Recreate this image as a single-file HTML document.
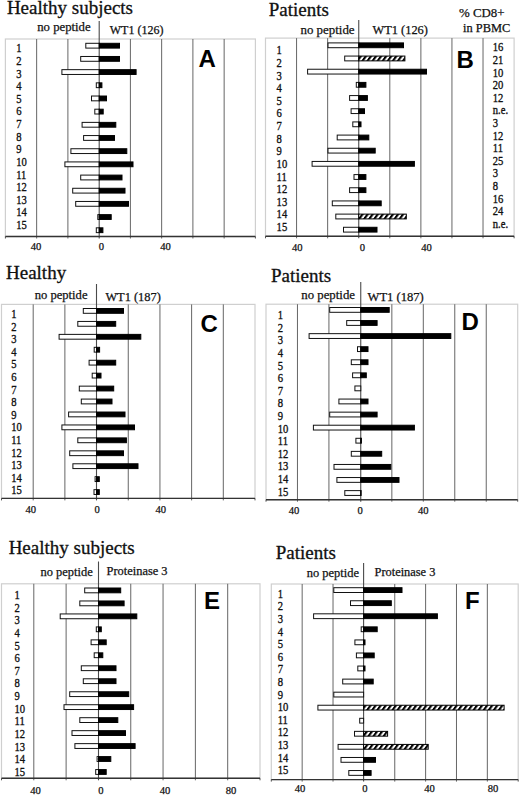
<!DOCTYPE html>
<html><head><meta charset="utf-8"><style>
html,body{margin:0;padding:0;background:#fff;}
body{width:520px;height:795px;overflow:hidden;}
svg{display:block;}
text{font-family:'Liberation Serif', serif;fill:#111;stroke:#111;stroke-width:0.25px;}
.r{stroke-width:0.3px;}
.t{font-size:19.0px;stroke-width:0.3px;}
.h{font-size:12.4px;}
.r{font-size:10.6px;}
.a{font-size:10.6px;text-anchor:middle;}
.L{font-family:'Liberation Sans', sans-serif;font-weight:bold;font-size:24px;fill:#000;stroke:none;}
</style></head><body>
<svg width="520" height="795" viewBox="0 0 520 795">
<defs>
<pattern id="hatch" patternUnits="userSpaceOnUse" width="4.1" height="10" patternTransform="rotate(36)">
<rect width="4.1" height="10" fill="#fff"/><rect width="2.1" height="10" fill="#000"/>
</pattern>

</defs>
<rect width="520" height="795" fill="#fff"/>
<g>
<rect x="5.4" y="39" width="250" height="197.5" fill="none" stroke="#cfcfcf" stroke-width="1.2"/>
<line x1="36.65" y1="39" x2="36.65" y2="238.5" stroke="#666" stroke-width="1"/>
<line x1="67.9" y1="39" x2="67.9" y2="238.5" stroke="#666" stroke-width="1"/>
<line x1="130.4" y1="39" x2="130.4" y2="238.5" stroke="#666" stroke-width="1"/>
<line x1="161.65" y1="39" x2="161.65" y2="238.5" stroke="#666" stroke-width="1"/>
<line x1="192.9" y1="39" x2="192.9" y2="238.5" stroke="#666" stroke-width="1"/>
<line x1="224.15" y1="39" x2="224.15" y2="238.5" stroke="#666" stroke-width="1"/>
<line x1="5.4" y1="236.5" x2="5.4" y2="238.5" stroke="#555" stroke-width="1"/>
<line x1="255.4" y1="236.5" x2="255.4" y2="238.5" stroke="#555" stroke-width="1"/>
<line x1="99.2" y1="21" x2="99.2" y2="238.5" stroke="#4a4a4a" stroke-width="1.1"/>
<rect x="85.8" y="43.3" width="13.4" height="4.8" fill="#fff" stroke="#111" stroke-width="1"/>
<rect x="99.2" y="43.3" width="20.3" height="4.8" fill="#000" stroke="#000" stroke-width="1"/>
<rect x="80.7" y="56.48" width="18.5" height="4.8" fill="#fff" stroke="#111" stroke-width="1"/>
<rect x="99.2" y="56.48" width="20.3" height="4.8" fill="#000" stroke="#000" stroke-width="1"/>
<rect x="61.9" y="69.66" width="37.3" height="4.8" fill="#fff" stroke="#111" stroke-width="1"/>
<rect x="99.2" y="69.66" width="36.9" height="4.8" fill="#000" stroke="#000" stroke-width="1"/>
<rect x="96.3" y="82.84" width="2.9" height="4.8" fill="#fff" stroke="#111" stroke-width="1"/>
<rect x="99.2" y="82.84" width="2.7" height="4.8" fill="#000" stroke="#000" stroke-width="1"/>
<rect x="91.5" y="96.02" width="7.7" height="4.8" fill="#fff" stroke="#111" stroke-width="1"/>
<rect x="99.2" y="96.02" width="7.3" height="4.8" fill="#000" stroke="#000" stroke-width="1"/>
<rect x="94.8" y="109.2" width="4.4" height="4.8" fill="#fff" stroke="#111" stroke-width="1"/>
<rect x="99.2" y="109.2" width="4" height="4.8" fill="#000" stroke="#000" stroke-width="1"/>
<rect x="82.1" y="122.38" width="17.1" height="4.8" fill="#fff" stroke="#111" stroke-width="1"/>
<rect x="99.2" y="122.38" width="16.6" height="4.8" fill="#000" stroke="#000" stroke-width="1"/>
<rect x="83.6" y="135.56" width="15.6" height="4.8" fill="#fff" stroke="#111" stroke-width="1"/>
<rect x="99.2" y="135.56" width="15.3" height="4.8" fill="#000" stroke="#000" stroke-width="1"/>
<rect x="70.9" y="148.74" width="28.3" height="4.8" fill="#fff" stroke="#111" stroke-width="1"/>
<rect x="99.2" y="148.74" width="27.6" height="4.8" fill="#000" stroke="#000" stroke-width="1"/>
<rect x="64.9" y="161.92" width="34.3" height="4.8" fill="#fff" stroke="#111" stroke-width="1"/>
<rect x="99.2" y="161.92" width="33.8" height="4.8" fill="#000" stroke="#000" stroke-width="1"/>
<rect x="80.7" y="175.1" width="18.5" height="4.8" fill="#fff" stroke="#111" stroke-width="1"/>
<rect x="99.2" y="175.1" width="22.8" height="4.8" fill="#000" stroke="#000" stroke-width="1"/>
<rect x="72.7" y="188.28" width="26.5" height="4.8" fill="#fff" stroke="#111" stroke-width="1"/>
<rect x="99.2" y="188.28" width="25.8" height="4.8" fill="#000" stroke="#000" stroke-width="1"/>
<rect x="75.7" y="201.46" width="23.5" height="4.8" fill="#fff" stroke="#111" stroke-width="1"/>
<rect x="99.2" y="201.46" width="29.3" height="4.8" fill="#000" stroke="#000" stroke-width="1"/>
<rect x="97.8" y="214.64" width="1.4" height="4.8" fill="#fff" stroke="#111" stroke-width="1"/>
<rect x="99.2" y="214.64" width="12" height="4.8" fill="#000" stroke="#000" stroke-width="1"/>
<rect x="96.3" y="227.82" width="2.9" height="4.8" fill="#fff" stroke="#111" stroke-width="1"/>
<rect x="99.2" y="227.82" width="3.7" height="4.8" fill="#000" stroke="#000" stroke-width="1"/>
<line x1="5.4" y1="236.5" x2="255.4" y2="236.5" stroke="#333" stroke-width="1.4"/>
<text transform="translate(16.2,52.3) scale(1,1.12)" class="r">1</text>
<text transform="translate(16.2,64.92) scale(1,1.12)" class="r">2</text>
<text transform="translate(16.2,77.54) scale(1,1.12)" class="r">3</text>
<text transform="translate(16.2,90.16) scale(1,1.12)" class="r">4</text>
<text transform="translate(16.2,102.78) scale(1,1.12)" class="r">5</text>
<text transform="translate(16.2,115.4) scale(1,1.12)" class="r">6</text>
<text transform="translate(16.2,128.02) scale(1,1.12)" class="r">7</text>
<text transform="translate(16.2,140.64) scale(1,1.12)" class="r">8</text>
<text transform="translate(16.2,153.26) scale(1,1.12)" class="r">9</text>
<text transform="translate(16.2,165.88) scale(1,1.12)" class="r">10</text>
<text transform="translate(16.2,178.5) scale(1,1.12)" class="r">11</text>
<text transform="translate(16.2,191.12) scale(1,1.12)" class="r">12</text>
<text transform="translate(16.2,203.74) scale(1,1.12)" class="r">13</text>
<text transform="translate(16.2,216.36) scale(1,1.12)" class="r">14</text>
<text transform="translate(16.2,228.98) scale(1,1.12)" class="r">15</text>
<text x="6.9" y="13.8" class="t">Healthy subjects</text>
<text x="37.2" y="31.3" class="h" style="font-size:12.75px">no peptide</text>
<text x="109.8" y="33.8" class="h" style="font-size:12.0px">WT1 (126)</text>
<text x="198.5" y="67.3" class="L">A</text>
<text x="36.1" y="250" class="a">40</text>
<text x="101.5" y="250" class="a">0</text>
<text x="165.6" y="250" class="a">40</text>
<rect x="265.5" y="38.1" width="248.6" height="198.2" fill="none" stroke="#cfcfcf" stroke-width="1.2"/>
<line x1="296.57" y1="38.1" x2="296.57" y2="238.3" stroke="#666" stroke-width="1"/>
<line x1="327.65" y1="38.1" x2="327.65" y2="238.3" stroke="#666" stroke-width="1"/>
<line x1="389.8" y1="38.1" x2="389.8" y2="238.3" stroke="#666" stroke-width="1"/>
<line x1="420.88" y1="38.1" x2="420.88" y2="238.3" stroke="#666" stroke-width="1"/>
<line x1="451.95" y1="38.1" x2="451.95" y2="238.3" stroke="#666" stroke-width="1"/>
<line x1="483.03" y1="38.1" x2="483.03" y2="238.3" stroke="#666" stroke-width="1"/>
<line x1="265.5" y1="236.3" x2="265.5" y2="238.3" stroke="#555" stroke-width="1"/>
<line x1="514.1" y1="236.3" x2="514.1" y2="238.3" stroke="#555" stroke-width="1"/>
<line x1="358.75" y1="20" x2="358.75" y2="238.3" stroke="#4a4a4a" stroke-width="1.1"/>
<rect x="328" y="42.9" width="30.75" height="4.8" fill="#fff" stroke="#111" stroke-width="1"/>
<rect x="358.75" y="42.9" width="44.75" height="4.8" fill="#000" stroke="#000" stroke-width="1"/>
<rect x="344.7" y="56.07" width="14.05" height="4.8" fill="#fff" stroke="#111" stroke-width="1"/>
<rect x="358.75" y="56.07" width="46.15" height="4.8" fill="url(#hatch)" stroke="#000" stroke-width="1"/>
<rect x="307.6" y="69.24" width="51.15" height="4.8" fill="#fff" stroke="#111" stroke-width="1"/>
<rect x="358.75" y="69.24" width="67.75" height="4.8" fill="#000" stroke="#000" stroke-width="1"/>
<rect x="356.3" y="82.41" width="2.45" height="4.8" fill="#fff" stroke="#111" stroke-width="1"/>
<rect x="358.75" y="82.41" width="7.15" height="4.8" fill="#000" stroke="#000" stroke-width="1"/>
<rect x="349.6" y="95.58" width="9.15" height="4.8" fill="#fff" stroke="#111" stroke-width="1"/>
<rect x="358.75" y="95.58" width="8.65" height="4.8" fill="#000" stroke="#000" stroke-width="1"/>
<rect x="351.1" y="108.75" width="7.65" height="4.8" fill="#fff" stroke="#111" stroke-width="1"/>
<rect x="358.75" y="108.75" width="5.75" height="4.8" fill="#000" stroke="#000" stroke-width="1"/>
<rect x="352.8" y="121.92" width="5.95" height="4.8" fill="#fff" stroke="#111" stroke-width="1"/>
<rect x="358.75" y="121.92" width="2.25" height="4.8" fill="#000" stroke="#000" stroke-width="1"/>
<rect x="337.2" y="135.09" width="21.55" height="4.8" fill="#fff" stroke="#111" stroke-width="1"/>
<rect x="358.75" y="135.09" width="10.05" height="4.8" fill="#000" stroke="#000" stroke-width="1"/>
<rect x="328" y="148.26" width="30.75" height="4.8" fill="#fff" stroke="#111" stroke-width="1"/>
<rect x="358.75" y="148.26" width="16.45" height="4.8" fill="#000" stroke="#000" stroke-width="1"/>
<rect x="312.1" y="161.43" width="46.65" height="4.8" fill="#fff" stroke="#111" stroke-width="1"/>
<rect x="358.75" y="161.43" width="55.65" height="4.8" fill="#000" stroke="#000" stroke-width="1"/>
<rect x="354" y="174.6" width="4.75" height="4.8" fill="#fff" stroke="#111" stroke-width="1"/>
<rect x="358.75" y="174.6" width="7.15" height="4.8" fill="#000" stroke="#000" stroke-width="1"/>
<rect x="349.6" y="187.77" width="9.15" height="4.8" fill="#fff" stroke="#111" stroke-width="1"/>
<rect x="358.75" y="187.77" width="7.15" height="4.8" fill="#000" stroke="#000" stroke-width="1"/>
<rect x="332.3" y="200.94" width="26.45" height="4.8" fill="#fff" stroke="#111" stroke-width="1"/>
<rect x="358.75" y="200.94" width="22.45" height="4.8" fill="#000" stroke="#000" stroke-width="1"/>
<rect x="335.8" y="214.11" width="22.95" height="4.8" fill="#fff" stroke="#111" stroke-width="1"/>
<rect x="358.75" y="214.11" width="47.55" height="4.8" fill="url(#hatch)" stroke="#000" stroke-width="1"/>
<rect x="343.5" y="227.28" width="15.25" height="4.8" fill="#fff" stroke="#111" stroke-width="1"/>
<rect x="358.75" y="227.28" width="18.25" height="4.8" fill="#000" stroke="#000" stroke-width="1"/>
<line x1="265.5" y1="236.3" x2="514.1" y2="236.3" stroke="#333" stroke-width="1.4"/>
<text transform="translate(276.6,54.4) scale(1,1.12)" class="r">1</text>
<text transform="translate(276.6,67.01) scale(1,1.12)" class="r">2</text>
<text transform="translate(276.6,79.62) scale(1,1.12)" class="r">3</text>
<text transform="translate(276.6,92.23) scale(1,1.12)" class="r">4</text>
<text transform="translate(276.6,104.84) scale(1,1.12)" class="r">5</text>
<text transform="translate(276.6,117.45) scale(1,1.12)" class="r">6</text>
<text transform="translate(276.6,130.06) scale(1,1.12)" class="r">7</text>
<text transform="translate(276.6,142.67) scale(1,1.12)" class="r">8</text>
<text transform="translate(276.6,155.28) scale(1,1.12)" class="r">9</text>
<text transform="translate(276.6,167.89) scale(1,1.12)" class="r">10</text>
<text transform="translate(276.6,180.5) scale(1,1.12)" class="r">11</text>
<text transform="translate(276.6,193.11) scale(1,1.12)" class="r">12</text>
<text transform="translate(276.6,205.72) scale(1,1.12)" class="r">13</text>
<text transform="translate(276.6,218.33) scale(1,1.12)" class="r">14</text>
<text transform="translate(276.6,230.94) scale(1,1.12)" class="r">15</text>
<text x="268.7" y="15.5" class="t">Patients</text>
<text x="300.5" y="33.6" class="h" style="font-size:12.9px">no peptide</text>
<text x="372.5" y="33.6" class="h" style="font-size:12.4px">WT1 (126)</text>
<text x="456.6" y="68.3" class="L">B</text>
<text x="297.2" y="251" class="a">40</text>
<text x="362.3" y="251" class="a">0</text>
<text x="426.5" y="251" class="a">40</text>
<rect x="1.5" y="304.4" width="253.5" height="194" fill="none" stroke="#cfcfcf" stroke-width="1.2"/>
<line x1="33.19" y1="304.4" x2="33.19" y2="500.4" stroke="#666" stroke-width="1"/>
<line x1="64.88" y1="304.4" x2="64.88" y2="500.4" stroke="#666" stroke-width="1"/>
<line x1="128.25" y1="304.4" x2="128.25" y2="500.4" stroke="#666" stroke-width="1"/>
<line x1="159.94" y1="304.4" x2="159.94" y2="500.4" stroke="#666" stroke-width="1"/>
<line x1="191.62" y1="304.4" x2="191.62" y2="500.4" stroke="#666" stroke-width="1"/>
<line x1="223.31" y1="304.4" x2="223.31" y2="500.4" stroke="#666" stroke-width="1"/>
<line x1="1.5" y1="498.4" x2="1.5" y2="500.4" stroke="#555" stroke-width="1"/>
<line x1="255" y1="498.4" x2="255" y2="500.4" stroke="#555" stroke-width="1"/>
<line x1="96.5" y1="284" x2="96.5" y2="500.4" stroke="#4a4a4a" stroke-width="1.1"/>
<rect x="83.3" y="308.5" width="13.2" height="4.8" fill="#fff" stroke="#111" stroke-width="1"/>
<rect x="96.5" y="308.5" width="27" height="4.8" fill="#000" stroke="#000" stroke-width="1"/>
<rect x="77.8" y="321.44" width="18.7" height="4.8" fill="#fff" stroke="#111" stroke-width="1"/>
<rect x="96.5" y="321.44" width="19.2" height="4.8" fill="#000" stroke="#000" stroke-width="1"/>
<rect x="59.1" y="334.38" width="37.4" height="4.8" fill="#fff" stroke="#111" stroke-width="1"/>
<rect x="96.5" y="334.38" width="44.3" height="4.8" fill="#000" stroke="#000" stroke-width="1"/>
<rect x="94.2" y="347.32" width="2.3" height="4.8" fill="#fff" stroke="#111" stroke-width="1"/>
<rect x="96.5" y="347.32" width="3.1" height="4.8" fill="#000" stroke="#000" stroke-width="1"/>
<rect x="89.1" y="360.26" width="7.4" height="4.8" fill="#fff" stroke="#111" stroke-width="1"/>
<rect x="96.5" y="360.26" width="19.2" height="4.8" fill="#000" stroke="#000" stroke-width="1"/>
<rect x="92.2" y="373.2" width="4.3" height="4.8" fill="#fff" stroke="#111" stroke-width="1"/>
<rect x="96.5" y="373.2" width="4.5" height="4.8" fill="#000" stroke="#000" stroke-width="1"/>
<rect x="79.3" y="386.14" width="17.2" height="4.8" fill="#fff" stroke="#111" stroke-width="1"/>
<rect x="96.5" y="386.14" width="17.2" height="4.8" fill="#000" stroke="#000" stroke-width="1"/>
<rect x="81.3" y="399.08" width="15.2" height="4.8" fill="#fff" stroke="#111" stroke-width="1"/>
<rect x="96.5" y="399.08" width="15.5" height="4.8" fill="#000" stroke="#000" stroke-width="1"/>
<rect x="68.6" y="412.02" width="27.9" height="4.8" fill="#fff" stroke="#111" stroke-width="1"/>
<rect x="96.5" y="412.02" width="28.5" height="4.8" fill="#000" stroke="#000" stroke-width="1"/>
<rect x="61.9" y="424.96" width="34.6" height="4.8" fill="#fff" stroke="#111" stroke-width="1"/>
<rect x="96.5" y="424.96" width="38" height="4.8" fill="#000" stroke="#000" stroke-width="1"/>
<rect x="77.8" y="437.9" width="18.7" height="4.8" fill="#fff" stroke="#111" stroke-width="1"/>
<rect x="96.5" y="437.9" width="29.9" height="4.8" fill="#000" stroke="#000" stroke-width="1"/>
<rect x="69.7" y="450.84" width="26.8" height="4.8" fill="#fff" stroke="#111" stroke-width="1"/>
<rect x="96.5" y="450.84" width="27" height="4.8" fill="#000" stroke="#000" stroke-width="1"/>
<rect x="72.9" y="463.78" width="23.6" height="4.8" fill="#fff" stroke="#111" stroke-width="1"/>
<rect x="96.5" y="463.78" width="41.5" height="4.8" fill="#000" stroke="#000" stroke-width="1"/>
<rect x="95.1" y="476.72" width="1.4" height="4.8" fill="#fff" stroke="#111" stroke-width="1"/>
<rect x="96.5" y="476.72" width="2.8" height="4.8" fill="#000" stroke="#000" stroke-width="1"/>
<rect x="94" y="489.66" width="2.5" height="4.8" fill="#fff" stroke="#111" stroke-width="1"/>
<rect x="96.5" y="489.66" width="2.8" height="4.8" fill="#000" stroke="#000" stroke-width="1"/>
<line x1="1.5" y1="498.4" x2="255" y2="498.4" stroke="#333" stroke-width="1.4"/>
<text transform="translate(11.2,317.9) scale(1,1.12)" class="r">1</text>
<text transform="translate(11.2,330.5) scale(1,1.12)" class="r">2</text>
<text transform="translate(11.2,343.1) scale(1,1.12)" class="r">3</text>
<text transform="translate(11.2,355.7) scale(1,1.12)" class="r">4</text>
<text transform="translate(11.2,368.3) scale(1,1.12)" class="r">5</text>
<text transform="translate(11.2,380.9) scale(1,1.12)" class="r">6</text>
<text transform="translate(11.2,393.5) scale(1,1.12)" class="r">7</text>
<text transform="translate(11.2,406.1) scale(1,1.12)" class="r">8</text>
<text transform="translate(11.2,418.7) scale(1,1.12)" class="r">9</text>
<text transform="translate(11.2,431.3) scale(1,1.12)" class="r">10</text>
<text transform="translate(11.2,443.9) scale(1,1.12)" class="r">11</text>
<text transform="translate(11.2,456.5) scale(1,1.12)" class="r">12</text>
<text transform="translate(11.2,469.1) scale(1,1.12)" class="r">13</text>
<text transform="translate(11.2,481.7) scale(1,1.12)" class="r">14</text>
<text transform="translate(11.2,494.3) scale(1,1.12)" class="r">15</text>
<text x="6" y="279.1" class="t">Healthy</text>
<text x="34.7" y="298.9" class="h" style="font-size:12.6px">no peptide</text>
<text x="105.4" y="300.8" class="h" style="font-size:12.4px">WT1 (187)</text>
<text x="200.5" y="332" class="L">C</text>
<text x="30.8" y="513" class="a">40</text>
<text x="97.1" y="513" class="a">0</text>
<text x="160.8" y="513" class="a">40</text>
<rect x="266" y="304.2" width="251.7" height="195.5" fill="none" stroke="#cfcfcf" stroke-width="1.2"/>
<line x1="297.46" y1="304.2" x2="297.46" y2="501.7" stroke="#666" stroke-width="1"/>
<line x1="328.93" y1="304.2" x2="328.93" y2="501.7" stroke="#666" stroke-width="1"/>
<line x1="391.85" y1="304.2" x2="391.85" y2="501.7" stroke="#666" stroke-width="1"/>
<line x1="423.31" y1="304.2" x2="423.31" y2="501.7" stroke="#666" stroke-width="1"/>
<line x1="454.78" y1="304.2" x2="454.78" y2="501.7" stroke="#666" stroke-width="1"/>
<line x1="486.24" y1="304.2" x2="486.24" y2="501.7" stroke="#666" stroke-width="1"/>
<line x1="266" y1="499.7" x2="266" y2="501.7" stroke="#555" stroke-width="1"/>
<line x1="517.7" y1="499.7" x2="517.7" y2="501.7" stroke="#555" stroke-width="1"/>
<line x1="360.75" y1="282" x2="360.75" y2="501.7" stroke="#4a4a4a" stroke-width="1.1"/>
<rect x="329.7" y="307.5" width="31.05" height="4.8" fill="#fff" stroke="#111" stroke-width="1"/>
<rect x="360.75" y="307.5" width="28.45" height="4.8" fill="#000" stroke="#000" stroke-width="1"/>
<rect x="346.7" y="320.58" width="14.05" height="4.8" fill="#fff" stroke="#111" stroke-width="1"/>
<rect x="360.75" y="320.58" width="16.35" height="4.8" fill="#000" stroke="#000" stroke-width="1"/>
<rect x="309.1" y="333.66" width="51.65" height="4.8" fill="#fff" stroke="#111" stroke-width="1"/>
<rect x="360.75" y="333.66" width="90.05" height="4.8" fill="#000" stroke="#000" stroke-width="1"/>
<rect x="357.5" y="346.74" width="3.25" height="4.8" fill="#fff" stroke="#111" stroke-width="1"/>
<rect x="360.75" y="346.74" width="7.25" height="4.8" fill="#000" stroke="#000" stroke-width="1"/>
<rect x="351.3" y="359.82" width="9.45" height="4.8" fill="#fff" stroke="#111" stroke-width="1"/>
<rect x="360.75" y="359.82" width="7.25" height="4.8" fill="#000" stroke="#000" stroke-width="1"/>
<rect x="352.6" y="372.9" width="8.15" height="4.8" fill="#fff" stroke="#111" stroke-width="1"/>
<rect x="360.75" y="372.9" width="5.55" height="4.8" fill="#000" stroke="#000" stroke-width="1"/>
<rect x="354.9" y="385.98" width="5.85" height="4.8" fill="#fff" stroke="#111" stroke-width="1"/>
<rect x="338.9" y="399.06" width="21.85" height="4.8" fill="#fff" stroke="#111" stroke-width="1"/>
<rect x="360.75" y="399.06" width="7.25" height="4.8" fill="#000" stroke="#000" stroke-width="1"/>
<rect x="329.7" y="412.14" width="31.05" height="4.8" fill="#fff" stroke="#111" stroke-width="1"/>
<rect x="360.75" y="412.14" width="16.35" height="4.8" fill="#000" stroke="#000" stroke-width="1"/>
<rect x="313.4" y="425.22" width="47.35" height="4.8" fill="#fff" stroke="#111" stroke-width="1"/>
<rect x="360.75" y="425.22" width="53.65" height="4.8" fill="#000" stroke="#000" stroke-width="1"/>
<rect x="355.9" y="438.3" width="4.85" height="4.8" fill="#fff" stroke="#111" stroke-width="1"/>
<rect x="360.75" y="438.3" width="0.65" height="4.8" fill="#000" stroke="#000" stroke-width="1"/>
<rect x="351.3" y="451.38" width="9.45" height="4.8" fill="#fff" stroke="#111" stroke-width="1"/>
<rect x="360.75" y="451.38" width="20.95" height="4.8" fill="#000" stroke="#000" stroke-width="1"/>
<rect x="334" y="464.46" width="26.75" height="4.8" fill="#fff" stroke="#111" stroke-width="1"/>
<rect x="360.75" y="464.46" width="30.05" height="4.8" fill="#000" stroke="#000" stroke-width="1"/>
<rect x="336.9" y="477.54" width="23.85" height="4.8" fill="#fff" stroke="#111" stroke-width="1"/>
<rect x="360.75" y="477.54" width="38.25" height="4.8" fill="#000" stroke="#000" stroke-width="1"/>
<rect x="344.8" y="490.62" width="15.95" height="4.8" fill="#fff" stroke="#111" stroke-width="1"/>
<rect x="360.75" y="490.62" width="0.3" height="4.8" fill="#000" stroke="#000" stroke-width="1"/>
<line x1="266" y1="499.7" x2="517.7" y2="499.7" stroke="#333" stroke-width="1.4"/>
<text transform="translate(277.8,319.2) scale(1,1.12)" class="r">1</text>
<text transform="translate(277.8,331.8) scale(1,1.12)" class="r">2</text>
<text transform="translate(277.8,344.4) scale(1,1.12)" class="r">3</text>
<text transform="translate(277.8,357) scale(1,1.12)" class="r">4</text>
<text transform="translate(277.8,369.6) scale(1,1.12)" class="r">5</text>
<text transform="translate(277.8,382.2) scale(1,1.12)" class="r">6</text>
<text transform="translate(277.8,394.8) scale(1,1.12)" class="r">7</text>
<text transform="translate(277.8,407.4) scale(1,1.12)" class="r">8</text>
<text transform="translate(277.8,420) scale(1,1.12)" class="r">9</text>
<text transform="translate(277.8,432.6) scale(1,1.12)" class="r">10</text>
<text transform="translate(277.8,445.2) scale(1,1.12)" class="r">11</text>
<text transform="translate(277.8,457.8) scale(1,1.12)" class="r">12</text>
<text transform="translate(277.8,470.4) scale(1,1.12)" class="r">13</text>
<text transform="translate(277.8,483) scale(1,1.12)" class="r">14</text>
<text transform="translate(277.8,495.6) scale(1,1.12)" class="r">15</text>
<text x="270.95" y="282.2" class="t">Patients</text>
<text x="301.3" y="299.35" class="h" style="font-size:12.8px">no peptide</text>
<text x="367.5" y="300.6" class="h" style="font-size:12.6px">WT1 (187)</text>
<text x="461.5" y="330" class="L">D</text>
<text x="294" y="513.5" class="a">40</text>
<text x="360.1" y="513.5" class="a">0</text>
<text x="423.2" y="513.5" class="a">40</text>
<rect x="1.5" y="583.8" width="258.5" height="194.5" fill="none" stroke="#cfcfcf" stroke-width="1.2"/>
<line x1="33.81" y1="583.8" x2="33.81" y2="780.3" stroke="#666" stroke-width="1"/>
<line x1="66.12" y1="583.8" x2="66.12" y2="780.3" stroke="#666" stroke-width="1"/>
<line x1="130.75" y1="583.8" x2="130.75" y2="780.3" stroke="#666" stroke-width="1"/>
<line x1="163.06" y1="583.8" x2="163.06" y2="780.3" stroke="#666" stroke-width="1"/>
<line x1="195.38" y1="583.8" x2="195.38" y2="780.3" stroke="#666" stroke-width="1"/>
<line x1="227.69" y1="583.8" x2="227.69" y2="780.3" stroke="#666" stroke-width="1"/>
<line x1="1.5" y1="778.3" x2="1.5" y2="780.3" stroke="#555" stroke-width="1"/>
<line x1="260" y1="778.3" x2="260" y2="780.3" stroke="#555" stroke-width="1"/>
<line x1="98.5" y1="561.5" x2="98.5" y2="780.3" stroke="#4a4a4a" stroke-width="1.1"/>
<rect x="84.7" y="588" width="13.8" height="4.8" fill="#fff" stroke="#111" stroke-width="1"/>
<rect x="98.5" y="588" width="22.2" height="4.8" fill="#000" stroke="#000" stroke-width="1"/>
<rect x="79.8" y="600.97" width="18.7" height="4.8" fill="#fff" stroke="#111" stroke-width="1"/>
<rect x="98.5" y="600.97" width="25.6" height="4.8" fill="#000" stroke="#000" stroke-width="1"/>
<rect x="60.2" y="613.94" width="38.3" height="4.8" fill="#fff" stroke="#111" stroke-width="1"/>
<rect x="98.5" y="613.94" width="38.3" height="4.8" fill="#000" stroke="#000" stroke-width="1"/>
<rect x="96.3" y="626.91" width="2.2" height="4.8" fill="#fff" stroke="#111" stroke-width="1"/>
<rect x="98.5" y="626.91" width="2.8" height="4.8" fill="#000" stroke="#000" stroke-width="1"/>
<rect x="91.1" y="639.88" width="7.4" height="4.8" fill="#fff" stroke="#111" stroke-width="1"/>
<rect x="98.5" y="639.88" width="7.7" height="4.8" fill="#000" stroke="#000" stroke-width="1"/>
<rect x="94.2" y="652.85" width="4.3" height="4.8" fill="#fff" stroke="#111" stroke-width="1"/>
<rect x="98.5" y="652.85" width="4.3" height="4.8" fill="#000" stroke="#000" stroke-width="1"/>
<rect x="81.3" y="665.82" width="17.2" height="4.8" fill="#fff" stroke="#111" stroke-width="1"/>
<rect x="98.5" y="665.82" width="17.5" height="4.8" fill="#000" stroke="#000" stroke-width="1"/>
<rect x="83.3" y="678.79" width="15.2" height="4.8" fill="#fff" stroke="#111" stroke-width="1"/>
<rect x="98.5" y="678.79" width="17.5" height="4.8" fill="#000" stroke="#000" stroke-width="1"/>
<rect x="69.7" y="691.76" width="28.8" height="4.8" fill="#fff" stroke="#111" stroke-width="1"/>
<rect x="98.5" y="691.76" width="30.2" height="4.8" fill="#000" stroke="#000" stroke-width="1"/>
<rect x="64" y="704.73" width="34.5" height="4.8" fill="#fff" stroke="#111" stroke-width="1"/>
<rect x="98.5" y="704.73" width="35.1" height="4.8" fill="#000" stroke="#000" stroke-width="1"/>
<rect x="79.8" y="717.7" width="18.7" height="4.8" fill="#fff" stroke="#111" stroke-width="1"/>
<rect x="98.5" y="717.7" width="19.3" height="4.8" fill="#000" stroke="#000" stroke-width="1"/>
<rect x="72" y="730.67" width="26.5" height="4.8" fill="#fff" stroke="#111" stroke-width="1"/>
<rect x="98.5" y="730.67" width="27" height="4.8" fill="#000" stroke="#000" stroke-width="1"/>
<rect x="74.9" y="743.64" width="23.6" height="4.8" fill="#fff" stroke="#111" stroke-width="1"/>
<rect x="98.5" y="743.64" width="36.6" height="4.8" fill="#000" stroke="#000" stroke-width="1"/>
<rect x="97.1" y="756.61" width="1.4" height="4.8" fill="#fff" stroke="#111" stroke-width="1"/>
<rect x="98.5" y="756.61" width="12.3" height="4.8" fill="#000" stroke="#000" stroke-width="1"/>
<rect x="95.7" y="769.58" width="2.8" height="4.8" fill="#fff" stroke="#111" stroke-width="1"/>
<rect x="98.5" y="769.58" width="7.7" height="4.8" fill="#000" stroke="#000" stroke-width="1"/>
<line x1="1.5" y1="778.3" x2="260" y2="778.3" stroke="#333" stroke-width="1.4"/>
<text transform="translate(14.5,599) scale(1,1.12)" class="r">1</text>
<text transform="translate(14.5,611.64) scale(1,1.12)" class="r">2</text>
<text transform="translate(14.5,624.28) scale(1,1.12)" class="r">3</text>
<text transform="translate(14.5,636.92) scale(1,1.12)" class="r">4</text>
<text transform="translate(14.5,649.56) scale(1,1.12)" class="r">5</text>
<text transform="translate(14.5,662.2) scale(1,1.12)" class="r">6</text>
<text transform="translate(14.5,674.84) scale(1,1.12)" class="r">7</text>
<text transform="translate(14.5,687.48) scale(1,1.12)" class="r">8</text>
<text transform="translate(14.5,700.12) scale(1,1.12)" class="r">9</text>
<text transform="translate(14.5,712.76) scale(1,1.12)" class="r">10</text>
<text transform="translate(14.5,725.4) scale(1,1.12)" class="r">11</text>
<text transform="translate(14.5,738.04) scale(1,1.12)" class="r">12</text>
<text transform="translate(14.5,750.68) scale(1,1.12)" class="r">13</text>
<text transform="translate(14.5,763.32) scale(1,1.12)" class="r">14</text>
<text transform="translate(14.5,775.96) scale(1,1.12)" class="r">15</text>
<text x="8.65" y="553.9" class="t">Healthy subjects</text>
<text x="40.55" y="575.6" class="h" style="font-size:12.45px">no peptide</text>
<text x="106.6" y="575.4" class="h" style="font-size:12.4px">Proteinase 3</text>
<text x="203.9" y="609.2" class="L">E</text>
<text x="35.5" y="794" class="a">40</text>
<text x="101" y="794" class="a">0</text>
<text x="165" y="794" class="a">40</text>
<text x="231" y="794" class="a">80</text>
<rect x="271.3" y="584" width="246.9" height="195.6" fill="none" stroke="#cfcfcf" stroke-width="1.2"/>
<line x1="302.16" y1="584" x2="302.16" y2="781.6" stroke="#666" stroke-width="1"/>
<line x1="333.03" y1="584" x2="333.03" y2="781.6" stroke="#666" stroke-width="1"/>
<line x1="394.75" y1="584" x2="394.75" y2="781.6" stroke="#666" stroke-width="1"/>
<line x1="425.61" y1="584" x2="425.61" y2="781.6" stroke="#666" stroke-width="1"/>
<line x1="456.48" y1="584" x2="456.48" y2="781.6" stroke="#666" stroke-width="1"/>
<line x1="487.34" y1="584" x2="487.34" y2="781.6" stroke="#666" stroke-width="1"/>
<line x1="271.3" y1="779.6" x2="271.3" y2="781.6" stroke="#555" stroke-width="1"/>
<line x1="518.2" y1="779.6" x2="518.2" y2="781.6" stroke="#555" stroke-width="1"/>
<line x1="363.6" y1="563" x2="363.6" y2="781.6" stroke="#4a4a4a" stroke-width="1.1"/>
<rect x="333.8" y="587.7" width="29.8" height="4.8" fill="#fff" stroke="#111" stroke-width="1"/>
<rect x="363.6" y="587.7" width="38.4" height="4.8" fill="#000" stroke="#000" stroke-width="1"/>
<rect x="350.5" y="600.76" width="13.1" height="4.8" fill="#fff" stroke="#111" stroke-width="1"/>
<rect x="363.6" y="600.76" width="27.7" height="4.8" fill="#000" stroke="#000" stroke-width="1"/>
<rect x="313.6" y="613.82" width="50" height="4.8" fill="#fff" stroke="#111" stroke-width="1"/>
<rect x="363.6" y="613.82" width="73.8" height="4.8" fill="#000" stroke="#000" stroke-width="1"/>
<rect x="361.2" y="626.88" width="2.4" height="4.8" fill="#fff" stroke="#111" stroke-width="1"/>
<rect x="363.6" y="626.88" width="13.6" height="4.8" fill="#000" stroke="#000" stroke-width="1"/>
<rect x="354.9" y="639.94" width="8.7" height="4.8" fill="#fff" stroke="#111" stroke-width="1"/>
<rect x="363.6" y="639.94" width="1.4" height="4.8" fill="#000" stroke="#000" stroke-width="1"/>
<rect x="356.4" y="653" width="7.2" height="4.8" fill="#fff" stroke="#111" stroke-width="1"/>
<rect x="363.6" y="653" width="10.6" height="4.8" fill="#000" stroke="#000" stroke-width="1"/>
<rect x="357.8" y="666.06" width="5.8" height="4.8" fill="#fff" stroke="#111" stroke-width="1"/>
<rect x="363.6" y="666.06" width="1.4" height="4.8" fill="#000" stroke="#000" stroke-width="1"/>
<rect x="342.7" y="679.12" width="20.9" height="4.8" fill="#fff" stroke="#111" stroke-width="1"/>
<rect x="363.6" y="679.12" width="9.6" height="4.8" fill="#000" stroke="#000" stroke-width="1"/>
<rect x="333.8" y="692.18" width="29.8" height="4.8" fill="#fff" stroke="#111" stroke-width="1"/>
<rect x="317.9" y="705.24" width="45.7" height="4.8" fill="#fff" stroke="#111" stroke-width="1"/>
<rect x="363.6" y="705.24" width="140.5" height="4.8" fill="url(#hatch)" stroke="#000" stroke-width="1"/>
<rect x="359.7" y="718.3" width="3.9" height="4.8" fill="#fff" stroke="#111" stroke-width="1"/>
<rect x="354.5" y="731.36" width="9.1" height="4.8" fill="#fff" stroke="#111" stroke-width="1"/>
<rect x="363.6" y="731.36" width="24" height="4.8" fill="url(#hatch)" stroke="#000" stroke-width="1"/>
<rect x="338.1" y="744.42" width="25.5" height="4.8" fill="#fff" stroke="#111" stroke-width="1"/>
<rect x="363.6" y="744.42" width="64.6" height="4.8" fill="url(#hatch)" stroke="#000" stroke-width="1"/>
<rect x="341" y="757.48" width="22.6" height="4.8" fill="#fff" stroke="#111" stroke-width="1"/>
<rect x="363.6" y="757.48" width="11.9" height="4.8" fill="#000" stroke="#000" stroke-width="1"/>
<rect x="348.8" y="770.54" width="14.8" height="4.8" fill="#fff" stroke="#111" stroke-width="1"/>
<rect x="363.6" y="770.54" width="7.5" height="4.8" fill="#000" stroke="#000" stroke-width="1"/>
<line x1="271.3" y1="779.6" x2="518.2" y2="779.6" stroke="#333" stroke-width="1.4"/>
<text transform="translate(277.7,597.7) scale(1,1.12)" class="r">1</text>
<text transform="translate(277.7,610.31) scale(1,1.12)" class="r">2</text>
<text transform="translate(277.7,622.92) scale(1,1.12)" class="r">3</text>
<text transform="translate(277.7,635.53) scale(1,1.12)" class="r">4</text>
<text transform="translate(277.7,648.14) scale(1,1.12)" class="r">5</text>
<text transform="translate(277.7,660.75) scale(1,1.12)" class="r">6</text>
<text transform="translate(277.7,673.36) scale(1,1.12)" class="r">7</text>
<text transform="translate(277.7,685.97) scale(1,1.12)" class="r">8</text>
<text transform="translate(277.7,698.58) scale(1,1.12)" class="r">9</text>
<text transform="translate(277.7,711.19) scale(1,1.12)" class="r">10</text>
<text transform="translate(277.7,723.8) scale(1,1.12)" class="r">11</text>
<text transform="translate(277.7,736.41) scale(1,1.12)" class="r">12</text>
<text transform="translate(277.7,749.02) scale(1,1.12)" class="r">13</text>
<text transform="translate(277.7,761.63) scale(1,1.12)" class="r">14</text>
<text transform="translate(277.7,774.24) scale(1,1.12)" class="r">15</text>
<text x="275.8" y="558.6" class="t">Patients</text>
<text x="306.8" y="576.6" class="h" style="font-size:12.45px">no peptide</text>
<text x="374.5" y="576" class="h" style="font-size:12.4px">Proteinase 3</text>
<text x="465" y="608.6" class="L">F</text>
<text x="300" y="792" class="a">40</text>
<text x="365" y="792" class="a">0</text>
<text x="429.5" y="792" class="a">40</text>
<text x="493" y="792" class="a">80</text>
<text x="459" y="16.9" class="h" style="font-size:12.9px">% CD8+</text>
<text x="463" y="31.7" class="h">in PBMC</text>
<text transform="translate(492.8,51.3) scale(1,1.12)" class="r">16</text>
<text transform="translate(492.8,63.9) scale(1,1.12)" class="r">21</text>
<text transform="translate(492.8,76.5) scale(1,1.12)" class="r">10</text>
<text transform="translate(492.8,89.1) scale(1,1.12)" class="r">20</text>
<text transform="translate(492.8,101.7) scale(1,1.12)" class="r">12</text>
<text transform="translate(492.8,114.3) scale(1,1.12)" class="r">n.e.</text>
<text transform="translate(492.8,126.9) scale(1,1.12)" class="r">3</text>
<text transform="translate(492.8,139.5) scale(1,1.12)" class="r">12</text>
<text transform="translate(492.8,152.1) scale(1,1.12)" class="r">11</text>
<text transform="translate(492.8,164.7) scale(1,1.12)" class="r">25</text>
<text transform="translate(492.8,177.3) scale(1,1.12)" class="r">3</text>
<text transform="translate(492.8,189.9) scale(1,1.12)" class="r">8</text>
<text transform="translate(492.8,202.5) scale(1,1.12)" class="r">16</text>
<text transform="translate(492.8,215.1) scale(1,1.12)" class="r">24</text>
<text transform="translate(492.8,227.7) scale(1,1.12)" class="r">n.e.</text>
</g>
</svg>
</body></html>
